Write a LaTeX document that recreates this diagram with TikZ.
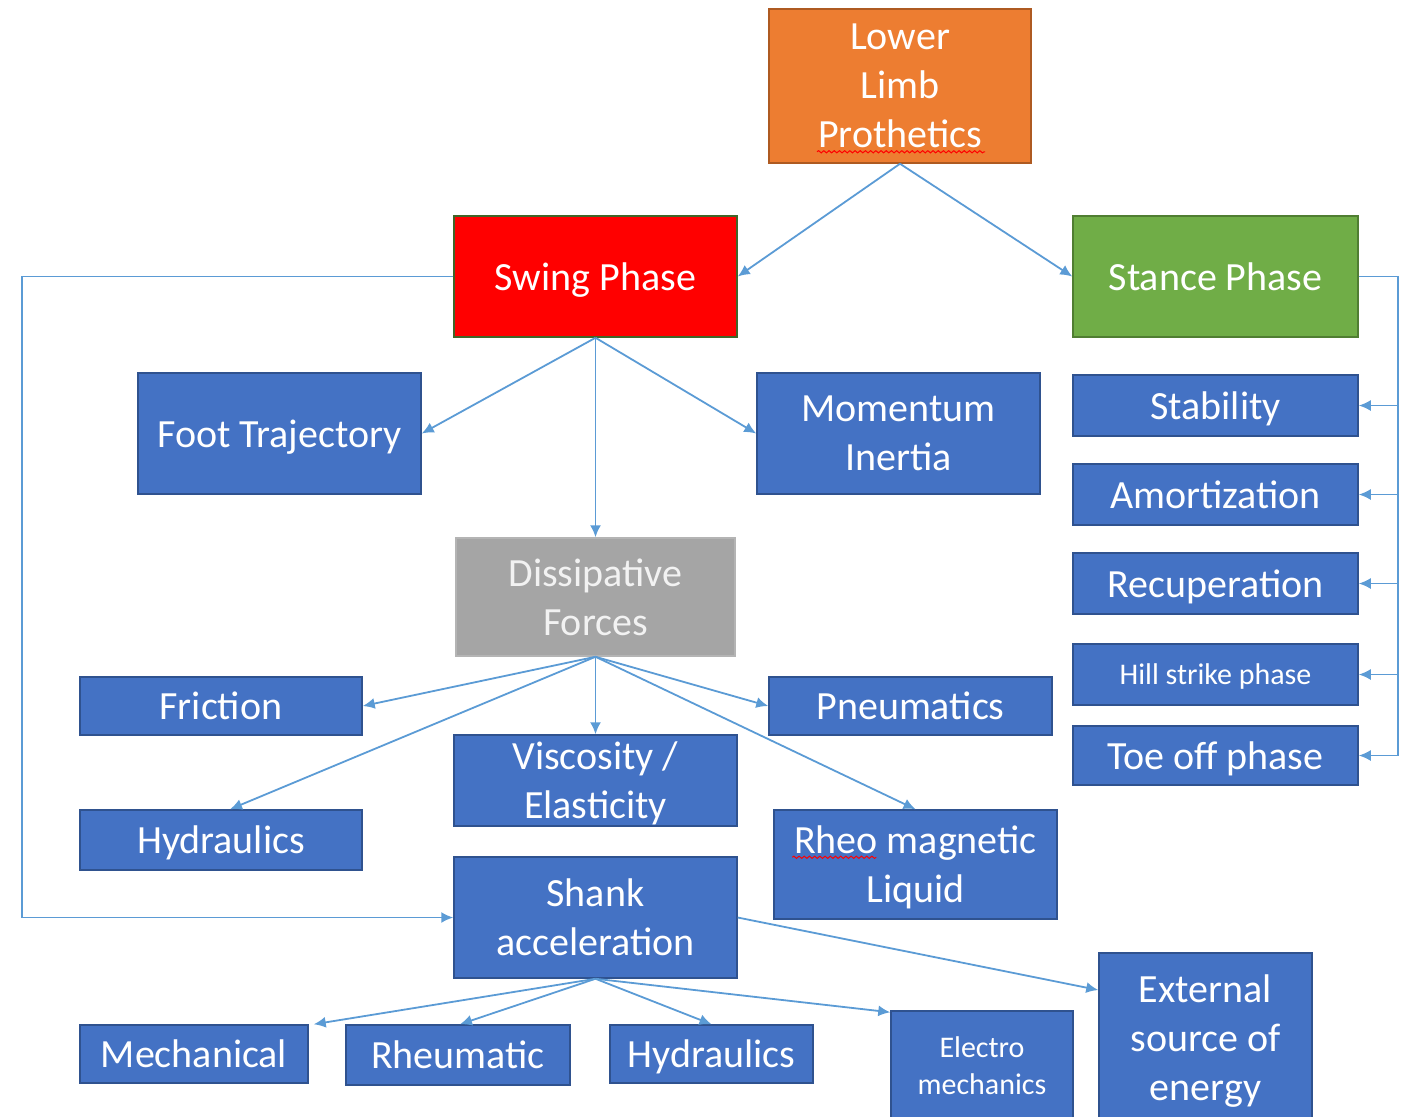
\documentclass[tikz,border=0pt]{standalone}
\usepackage{fontspec}
\setmainfont{Carlito}
\usetikzlibrary{arrows.meta,calc,decorations.pathmorphing}

\definecolor{boxblue}{HTML}{4472C4}
\definecolor{boxblueline}{HTML}{2F528F}
\definecolor{boxorange}{HTML}{ED7D31}
\definecolor{boxorangeline}{HTML}{AE5A21}
\definecolor{boxred}{HTML}{FF0000}
\definecolor{boxgreen}{HTML}{70AD47}
\definecolor{boxgreenline}{HTML}{507E32}
\definecolor{boxgray}{HTML}{A5A5A5}
\definecolor{boxgrayline}{HTML}{B4B4B4}
\definecolor{linkblue}{HTML}{5B9BD5}

\tikzset{
  box/.style={draw=boxblueline, fill=boxblue, line width=0.75pt, text=white,
    align=center, inner sep=0pt, text depth=0pt,
    font=\fontsize{20}{24.5}\selectfont},
  smallbox/.style={box, font=\fontsize{15}{18.5}\selectfont},
  link/.style={draw=linkblue, line width=0.9pt,
    -{Latex[length=6pt,width=5.5pt]}},
  squiggle/.style={draw=red, line width=0.5pt, decorate,
    decoration={snake, amplitude=0.55pt, segment length=2.6pt}},
}

\begin{document}
\begin{tikzpicture}[x=0.5pt, y=-0.5pt]
\useasboundingbox (0,0) rectangle (1402,1116);

% top level
\node[box, fill=boxorange, draw=boxorangeline, minimum width=131pt, minimum height=77pt]
  (top) at (900,86) {Lower\\Limb\\Prothetics};

% phases
\node[box, fill=boxred, draw=boxgreenline!80!black, minimum width=141.5pt, minimum height=60.5pt]
  (swing) at (595.5,276.5) {Swing Phase};
\node[box, fill=boxgreen, draw=boxgreenline, minimum width=142.5pt, minimum height=60.5pt]
  (stance) at (1215.5,276.5) {Stance Phase};

% swing phase children
\node[box, minimum width=141.5pt, minimum height=60.5pt] (foot) at (279.5,433.5) {Foot Trajectory};
\node[box, minimum width=141.5pt, minimum height=60.5pt] (mom) at (898.5,433.5) {Momentum\\Inertia};
\node[box, fill=boxgray, draw=boxgrayline, text=white!95!black, minimum width=139.5pt, minimum height=59pt]
  (diss) at (595.5,597) {Dissipative\\Forces};

% stance phase children
\node[box, minimum width=142.5pt, minimum height=30.5pt] (stab) at (1215.5,405.5) {Stability};
\node[box, minimum width=142.5pt, minimum height=30.5pt] (amort) at (1215.5,494.5) {Amortization};
\node[box, minimum width=142.5pt, minimum height=30.5pt] (recup) at (1215.5,583.5) {Recuperation};
\node[smallbox, minimum width=142.5pt, minimum height=30.5pt] (hill) at (1215.5,674.5) {Hill strike phase};
\node[box, minimum width=142.5pt, minimum height=29.5pt] (toe) at (1215.5,755.5) {Toe off phase};

% dissipative forces children
\node[box, minimum width=141pt, minimum height=29pt] (fric) at (221,706) {Friction};
\node[box, minimum width=141.5pt, minimum height=29pt] (pneu) at (910.5,706) {Pneumatics};
\node[box, minimum width=141.5pt, minimum height=45.5pt] (visc) at (595.5,780.5) {Viscosity /\\Elasticity};
\node[box, minimum width=141pt, minimum height=30pt] (hydA) at (221,840) {Hydraulics};
\node[box, minimum width=141.5pt, minimum height=54.5pt] (rheo) at (915.5,864.5) {Rheo magnetic\\Liquid};

% shank acceleration and its children
\node[box, minimum width=141.5pt, minimum height=60.5pt] (shank) at (595.5,917.5) {Shank\\acceleration};
\node[box, minimum width=106.5pt, minimum height=84.5pt] (ext) at (1205.5,1037.5) {External\\source of\\energy};
\node[box, minimum width=114pt, minimum height=29pt] (mech) at (194,1054) {Mechanical};
\node[box, minimum width=112pt, minimum height=30pt] (rheum) at (458,1055) {Rheumatic};
\node[box, minimum width=101.5pt, minimum height=29pt] (hydB) at (711.5,1054) {Hydraulics};
\node[smallbox, minimum width=91pt, minimum height=55pt] (elec) at (982,1066) {Electro\\mechanics};

% spell-check marks under two words
\draw[squiggle] ($(top.south)+(-83,-12)$) -- ($(top.south)+(85,-12)$);
\draw[squiggle] ($(rheo.north west)+(19,48)$) -- ($(rheo.north west)+(103,48)$);

% connectors from the top box
\draw[link] (top.south) -- (swing.east);
\draw[link] (top.south) -- (stance.west);

% swing phase connectors
\draw[link] (swing.south) -- (foot.east);
\draw[link] (swing.south) -- (mom.west);
\draw[link] (swing.south) -- (diss.north);
\coordinate (lrail) at (22,600);
\draw[link] (swing.west) -| (lrail) |- (shank.west);

% stance phase rail
\coordinate (rrail) at (1398,500);
\draw[link] (stance.east) -| (rrail) |- (toe.east);
\draw[link] (rrail |- stab.east) -- (stab.east);
\draw[link] (rrail |- amort.east) -- (amort.east);
\draw[link] (rrail |- recup.east) -- (recup.east);
\draw[link] (rrail |- hill.east) -- (hill.east);

% dissipative forces connectors
\draw[link] (diss.south) -- (fric.east);
\draw[link] (diss.south) -- ([xshift=4.5pt]hydA.north);
\draw[link] (diss.south) -- (visc.north);
\draw[link] (diss.south) -- (pneu.west);
\draw[link] (diss.south) -- (rheo.north);

% shank acceleration connectors
\draw[link] (shank.east) -- ([yshift=23.75pt]ext.west);
\draw[link] (shank.south) -- ([xshift=2.5pt]mech.north east);
\draw[link] (shank.south) -- ([xshift=1pt]rheum.north);
\draw[link] (shank.south) -- (hydB.north);
\draw[link] (shank.south) -- ([yshift=-1pt]elec.north west);
\end{tikzpicture}
\end{document}
